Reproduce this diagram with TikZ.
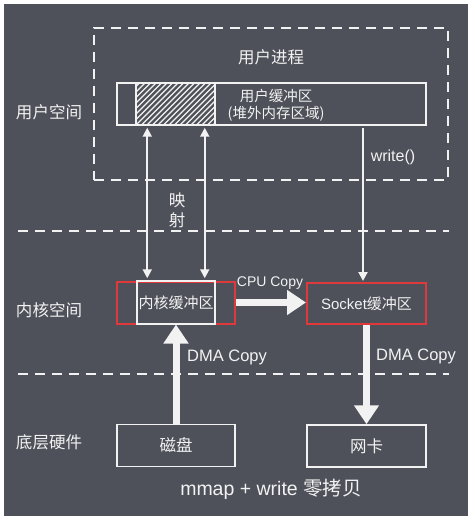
\documentclass[tikz,border=0pt]{standalone}
\usepackage{fontspec}
\setmainfont{Liberation Sans}
\newfontfamily\cjk{Noto Sans CJK SC}
\usetikzlibrary{arrows.meta}
\definecolor{bgdark}{HTML}{4E5159}
\definecolor{fgwhite}{HTML}{F2F2F2}
\definecolor{bufred}{HTML}{E0393B}

\begin{document}
\begin{tikzpicture}[x=1pt,y=-1pt,
  every node/.style={text=fgwhite},
  box/.style={draw=fgwhite,line width=1.5pt,minimum width=118pt,minimum height=42pt,inner sep=0pt,font=\fontsize{14}{17}\selectfont},
  redbox/.style={box,draw=bufred,line width=2pt},
  divider/.style={draw=fgwhite,line width=2pt,dash pattern=on 10pt off 7pt},
  lbl/.style={font=\fontsize{16.5}{19}\selectfont\cjk},
  smallarrow/.style={draw=fgwhite,line width=2pt},
  copyarrow/.style={draw=fgwhite,line width=7pt,-{Triangle[length=19pt,width=24pt]}}]

% background
  \fill[white] (0,0) rectangle (474,521);
  \fill[bgdark] (4,4) rectangle (468,516);

% layers
  \draw[divider] (18,231) -- (449,231);
  \draw[divider] (18,374) -- (449,374);
  \node[lbl] (lusr) at (49,112) {用户空间};
  \node[lbl] (lknl) at (49,310) {内核空间};
  \node[lbl] (lhw)  at (49,442) {底层硬件};

% user process
  \node[draw=fgwhite,line width=2pt,dash pattern=on 10pt off 7pt,minimum width=354pt,minimum height=152pt] (uproc) at (271,104) {};
  \node[lbl] (uproctxt) at (271,57) {用户进程};
  \node[box,minimum width=309pt] (ubuf) at (271.5,104) {};
  \node[box,minimum width=79pt,
        path picture={\foreach \i in {-9,...,15} {
            \draw[fgwhite,line width=1.2pt] ([xshift=\i*5.5pt]path picture bounding box.south west) -- ++(50pt,50pt);
        }}] (hatch) at (175.5,104) {};
  \node[font=\fontsize{14.5}{17}\selectfont\cjk,align=center] (ubuftxt) at (276,105) {用户缓冲区\\(堆外内存区域)};

% kernel buffers
  \node[redbox] (kbuf) at (176,302.5) {};
  \node[box,minimum width=78pt,minimum height=43pt,font=\fontsize{15}{18}\selectfont\cjk] (kin) at (176,302.5) {内核缓冲区};
  \node[redbox,minimum width=119pt,minimum height=41pt,font=\fontsize{15}{18}\selectfont] (sbuf) at (366.5,303.5) {Socket{\cjk 缓冲区}};

% hardware
  \node[box,font=\fontsize{16.5}{19}\selectfont\cjk] (disk) at (176,445.5) {磁盘};
  \node[box,minimum width=119pt,font=\fontsize{16.5}{19}\selectfont\cjk] (nic) at (366.5,446) {网卡};

% mapping and write()
  \draw[smallarrow,{Triangle[length=9pt,width=9pt]}-{Triangle[length=9pt,width=9pt]},shorten <=2pt,shorten >=2pt]
    ([xshift=11pt]kin.north west) -- ([xshift=11pt]kin.north west |- ubuf.south);
  \draw[smallarrow,{Triangle[length=9pt,width=9pt]}-{Triangle[length=9pt,width=9pt]},shorten <=2pt,shorten >=2pt]
    ([xshift=-11pt]kin.north east) -- ([xshift=-11pt]kin.north east |- ubuf.south);
  \node[lbl] (map1) at (177,200) {映};
  \node[lbl] (map2) at (177,220) {射};
  \draw[smallarrow,-{Triangle[length=9pt,width=9pt]},shorten <=2pt,shorten >=1pt]
    ([xshift=-3.5pt]sbuf.north |- ubuf.south) -- ([xshift=-3.5pt]sbuf.north);
  \node[font=\fontsize{16}{19}\selectfont] (wrt) at (393,157) {write()};

% copies
  \draw[copyarrow] (kbuf.east) -- (kbuf.east -| sbuf.west);
  \node[font=\fontsize{14}{16}\selectfont] (cpu) at (270,283) {CPU Copy};
  \draw[copyarrow] (disk.north) -- (kbuf.south);
  \node[font=\fontsize{16.5}{19}\selectfont] (dma1) at (227,357) {DMA Copy};
  \draw[copyarrow] (sbuf.south) -- (nic.north);
  \node[font=\fontsize{16.5}{19}\selectfont] (dma2) at (416,356) {DMA Copy};

% caption
  \node[font=\fontsize{19.5}{22}\selectfont] (cap) at (271,489) {mmap + write {\cjk 零拷贝}};
\end{tikzpicture}
\end{document}
